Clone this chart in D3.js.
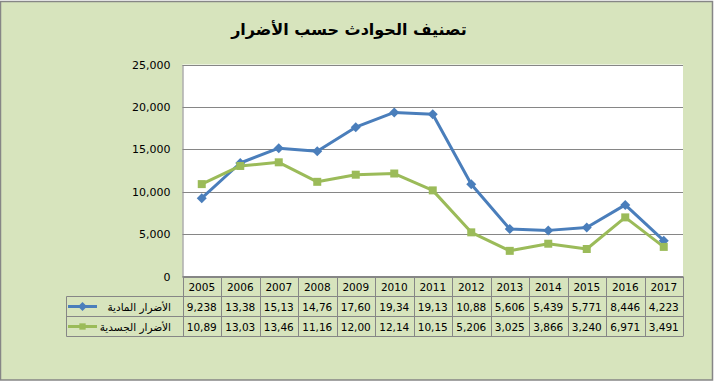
<!DOCTYPE html>
<html>
<head>
<meta charset="utf-8">
<script src="https://cdn.jsdelivr.net/npm/d3@7"></script>
<style>
  body { margin: 0; background: #fff; }
  svg { display: block; font-family: "DejaVu Sans", sans-serif; }
</style>
</head>
<body>
<svg id="chart" width="714" height="381"></svg>
<script>
// data
const YEARS = ['2005', '2006', '2007', '2008', '2009', '2010', '2011', '2012', '2013', '2014', '2015', '2016', '2017'];
const MATERIAL = [9238, 13385, 15135, 14765, 17605, 19345, 19135, 10885, 5606, 5439, 5771, 8446, 4223];
const BODILY = [10895, 13035, 13465, 11165, 12005, 12145, 10155, 5206, 3025, 3866, 3240, 6971, 3491];
// the table shows the numbers cut off, as in the original
const MATERIAL_LABELS = ['9,238', '13,38', '15,13', '14,76', '17,60', '19,34', '19,13', '10,88', '5,606', '5,439', '5,771', '8,446', '4,223'];
const BODILY_LABELS = ['10,89', '13,03', '13,46', '11,16', '12,00', '12,14', '10,15', '5,206', '3,025', '3,866', '3,240', '6,971', '3,491'];
const SERIES_NAMES = ['الأضرار المادية', 'الأضرار الجسدية'];
const Y_TICKS = [0, 5000, 10000, 15000, 20000, 25000];
const TITLE = 'تصنيف الحوادث حسب الأضرار';

const SVG1 = d3.select('#chart');
const W = 714, H = 381;
const LEFT = 182.5, RIGHT = 683, TOP = 64.5, BOTTOM = 276.5;
const ROW_H = 20;
const GRID = '#868686';

const series = [
    { name: SERIES_NAMES[0], values: MATERIAL, labels: MATERIAL_LABELS, color: '#4A7EBB', marker: 'diamond' },
    { name: SERIES_NAMES[1], values: BODILY, labels: BODILY_LABELS, color: '#9BBB59', marker: 'square' }
];

// background and frame
SVG1.append('rect')
    .attr('x', 0.5).attr('y', 1.5)
    .attr('width', W - 2).attr('height', H - 2.5)
    .style('fill', '#D7E4BD')
    .style('stroke', GRID)
    .style('stroke-width', 1.5);

SVG1.append('text')
    .attr('x', 349).attr('y', 35)
    .attr('text-anchor', 'middle')
    .style('font-size', '16px')
    .style('font-weight', 'bold')
    .style('fill', '#000')
    .text(TITLE);

// plot area
SVG1.append('rect')
    .attr('x', LEFT).attr('y', TOP)
    .attr('width', RIGHT - LEFT).attr('height', BOTTOM - TOP)
    .style('fill', '#fff');

const X_SCALE = d3.scaleBand().domain(YEARS).range([LEFT, RIGHT]);
const Y_SCALE = d3.scaleLinear().domain([0, 25000]).range([BOTTOM, TOP]);

// grid lines
SVG1.append('g')
    .selectAll('line')
    .data(Y_TICKS)
    .join('line')
    .attr('x1', LEFT).attr('x2', RIGHT)
    .attr('y1', d => Math.round(Y_SCALE(d)) + 0.5)
    .attr('y2', d => Math.round(Y_SCALE(d)) + 0.5)
    .style('stroke', GRID)
    .style('stroke-width', 1);

const Y_AXIS = d3.axisLeft(Y_SCALE).tickValues(Y_TICKS).tickSize(0).tickPadding(12).tickFormat(d3.format(','));
const Y_AXIS_GROUP = SVG1.append('g').attr('transform', `translate(${LEFT},0)`);
Y_AXIS(Y_AXIS_GROUP);
Y_AXIS_GROUP.select('.domain').style('stroke', GRID);
Y_AXIS_GROUP.selectAll('text')
    .style('font-family', '"DejaVu Sans", sans-serif')
    .style('font-size', '11px')
    .style('fill', '#000');

// lines and markers
const cx = d => X_SCALE(d) + X_SCALE.bandwidth() / 2;
const line = d3.line().x((d, i) => cx(YEARS[i])).y(d => Y_SCALE(d));

series.forEach(s => {
    SVG1.append('path')
        .datum(s.values)
        .attr('d', line)
        .style('fill', 'none')
        .style('stroke', s.color)
        .style('stroke-width', 3)
        .style('stroke-linejoin', 'round');
});

// diamond = square turned 45 degrees, like the spreadsheet marker
const markerPath = (s, size) => d3.symbol().type(d3.symbolSquare).size(size)();
const markerRot = s => s.marker === 'diamond' ? ' rotate(45)' : '';

series.forEach(s => {
    SVG1.append('g')
        .selectAll('path')
        .data(s.values)
        .join('path')
        .attr('transform', (d, i) => `translate(${cx(YEARS[i])},${Y_SCALE(d)})${markerRot(s)}`)
        .attr('d', markerPath(s, s.marker === 'diamond' ? 50 : 64))
        .style('fill', s.color);
});

// data table
const TABLE_LEFT = 66.5;
const table = SVG1.append('g');

// header row with years
table.selectAll('text.year')
    .data(YEARS)
    .join('text')
    .attr('class', 'year')
    .attr('x', d => cx(d))
    .attr('y', BOTTOM + ROW_H / 2 + 4)
    .attr('text-anchor', 'middle')
    .style('font-size', '10.5px')
    .style('fill', '#000')
    .text(d => d);

series.forEach((s, r) => {
    const yMid = BOTTOM + ROW_H * (r + 1) + ROW_H / 2;
    table.selectAll(null)
        .data(s.labels)
        .join('text')
        .attr('x', (d, i) => cx(YEARS[i]))
        .attr('y', yMid + 4)
        .attr('text-anchor', 'middle')
        .style('font-size', '10.5px')
        .style('fill', '#000')
        .text(d => d);

    // legend key
    table.append('line')
        .attr('x1', 68).attr('x2', 97)
        .attr('y1', yMid).attr('y2', yMid)
        .style('stroke', s.color)
        .style('stroke-width', 3);
    table.append('path')
        .attr('transform', `translate(82.5,${yMid})${markerRot(s)}`)
        .attr('d', markerPath(s, 40))
        .style('fill', s.color);
    table.append('text')
        .attr('x', 171).attr('y', yMid + 4)
        .attr('text-anchor', 'end')
        .style('font-size', '10.5px')
        .style('fill', '#000')
        .text(s.name);
});

// table grid
const tableBottom = BOTTOM + ROW_H * 3;
[1, 2, 3].forEach(r => {
    table.append('line')
        .attr('x1', TABLE_LEFT).attr('x2', RIGHT)
        .attr('y1', BOTTOM + ROW_H * r).attr('y2', BOTTOM + ROW_H * r)
        .style('stroke', GRID);
});
table.append('line')
    .attr('x1', LEFT).attr('x2', RIGHT)
    .attr('y1', BOTTOM).attr('y2', BOTTOM)
    .style('stroke', GRID);
table.append('line')
    .attr('x1', TABLE_LEFT).attr('x2', TABLE_LEFT)
    .attr('y1', BOTTOM + ROW_H).attr('y2', tableBottom)
    .style('stroke', GRID);
table.selectAll('line.col')
    .data(YEARS.concat(['end']))
    .join('line')
    .attr('class', 'col')
    .attr('x1', d => Math.round(d === 'end' ? RIGHT : X_SCALE(d)) + 0.5)
    .attr('x2', d => Math.round(d === 'end' ? RIGHT : X_SCALE(d)) + 0.5)
    .attr('y1', BOTTOM).attr('y2', tableBottom)
    .style('stroke', GRID);
</script>
</body>
</html>
